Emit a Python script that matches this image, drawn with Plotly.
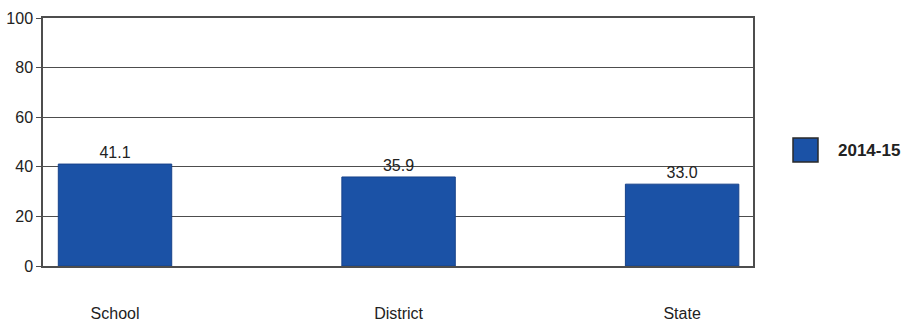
import plotly.graph_objects as go

categories = ["School", "District", "State"]
values = [41.1, 35.9, 33.0]
series_name = "2014-15"
y_ticks = [0, 20, 40, 60, 80, 100]

bar_color = "#1b52a6"
text_color = "#222222"
line_color = "#4d4d4d"

fig = go.Figure()
fig.add_trace(go.Bar(
    x=categories,
    y=values,
    name=series_name,
    width=0.4,
    marker=dict(color=bar_color, line=dict(color="#17428a", width=1)),
    text=values,
    texttemplate="%{y:.1f}",
    textposition="outside",
    textfont=dict(size=16, color=text_color),
    cliponaxis=False,
    showlegend=False,
))

# Legend key drawn as a square swatch with the series name beside it
fig.add_shape(type="rect", xref="paper", yref="paper",
              x0=(793 - 43) / 710, x1=(818 - 43) / 710,
              y0=(266 - 162) / 248, y1=(266 - 138) / 248,
              fillcolor=bar_color, line=dict(color="#2a2a2a", width=1.5))
fig.add_annotation(xref="paper", yref="paper",
                   x=(836 - 43) / 710, y=(266 - 150) / 248,
                   xanchor="left", yanchor="middle", showarrow=False,
                   text="<b>%s</b>" % series_name,
                   font=dict(size=17, color=text_color))

fig.update_layout(
    width=910, height=327,
    margin=dict(l=43, r=157, t=18, b=61),
    paper_bgcolor="white", plot_bgcolor="white",
    font=dict(family="Liberation Sans, Arial, sans-serif", size=16, color=text_color),
    bargap=0.6,
)
fig.update_xaxes(
    range=[-0.254, 2.25],
    automargin=False,
    showgrid=False,
    showline=True, linecolor=line_color, linewidth=1.5, mirror=True,
    ticks="", ticklabelstandoff=32,
    tickfont=dict(size=16, color=text_color),
)
fig.update_yaxes(
    range=[0, 100], tickvals=y_ticks,
    automargin=False,
    showgrid=True, gridcolor=line_color, gridwidth=1,
    showline=True, linecolor=line_color, linewidth=1.5, mirror=True,
    ticks="outside", ticklen=5, tickcolor=line_color,
    tickfont=dict(size=16, color=text_color),
    zeroline=False,
)

fig.write_html("out.html")
